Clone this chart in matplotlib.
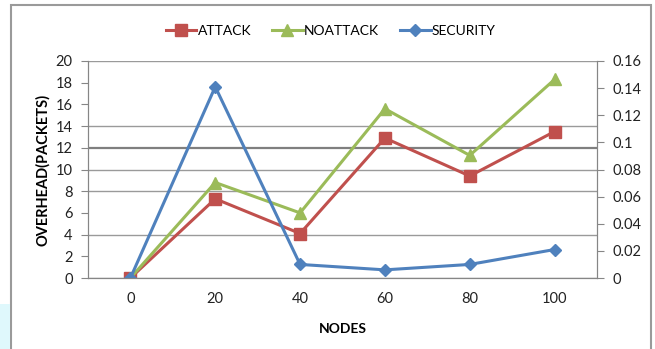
import numpy as np
import matplotlib.pyplot as plt
from matplotlib.patches import Rectangle

# данные
nodes = ['0', '20', '40', '60', '80', '100']
attack = [0, 7.3, 4.1, 12.9, 9.4, 13.5]
noattack = [0, 8.8, 6.0, 15.6, 11.3, 18.3]
security = [0, 0.141, 0.010, 0.006, 0.010, 0.021]

left_grid = [0, 4, 8, 10, 12, 14, 20]

plt.rcParams['font.family'] = ['Lato', 'DejaVu Sans']

fig = plt.figure(figsize=(6.55, 3.49), dpi=100)
ax = fig.add_axes([88 / 655, 1 - 278 / 349, (597 - 88) / 655, (278 - 61) / 349])
ax2 = ax.twinx()

x = np.arange(len(nodes))
grey = '#868686'

for g in left_grid:
    ax.axhline(g, color='#7f7f7f' if g == 12 else '#9a9a9a', lw=1.6 if g == 12 else 1.0, zorder=0)

l1, = ax.plot(x, attack, color='#C0504D', marker='s', ms=8, lw=2.2, label='ATTACK')
l2, = ax.plot(x, noattack, color='#9BBB59', marker='^', ms=8, lw=2.2, label='NOATTACK')
l3, = ax2.plot(x, security, color='#4F81BD', marker='D', ms=6.5, lw=2.2, label='SECURITY')

ax.set_xlim(-0.5, 5.5)
ax.set_ylim(0, 20)
ax.set_yticks(np.arange(0, 21, 2))
ax.set_xticks(x)
ax.set_xticklabels(nodes)
ax2.set_ylim(0, 0.16)
ax2.set_yticks(np.arange(0, 0.161, 0.02))
ax2.set_yticklabels(['%g' % round(v, 2) for v in np.arange(0, 0.161, 0.02)])

for a in (ax, ax2):
    for s in a.spines.values():
        s.set_color(grey)
    a.spines['top'].set_visible(False)
    a.tick_params(colors=grey, labelcolor='#222222', labelsize=10.5, length=5, pad=6)
ax.tick_params(axis='x', length=0, pad=10)

ax.set_xlabel('NODES', fontsize=10, fontweight='bold', labelpad=12)
ax.set_ylabel('OVERHEAD(PACKETS)', fontsize=10.5, fontweight='bold', labelpad=4)

fig.legend(handles=[l1, l2, l3], loc='center', bbox_to_anchor=(0.505, 1 - 31 / 349),
           ncol=3, frameon=False, fontsize=10, handlelength=2.2, columnspacing=1.5,
           handletextpad=0.1)

# рамка и светлая полоска слева внизу
fig.patches.append(Rectangle((11 / 655, -0.05), (651 - 11) / 655, 1.05 - 5 / 349,
                             transform=fig.transFigure, fill=False, ec='#9a9a9a', lw=1.5))
fig.patches.append(Rectangle((0, 0), 10 / 655, 45 / 349, transform=fig.transFigure,
                             color='#dff8fc', lw=0))

fig.savefig('out.png', dpi=100)
